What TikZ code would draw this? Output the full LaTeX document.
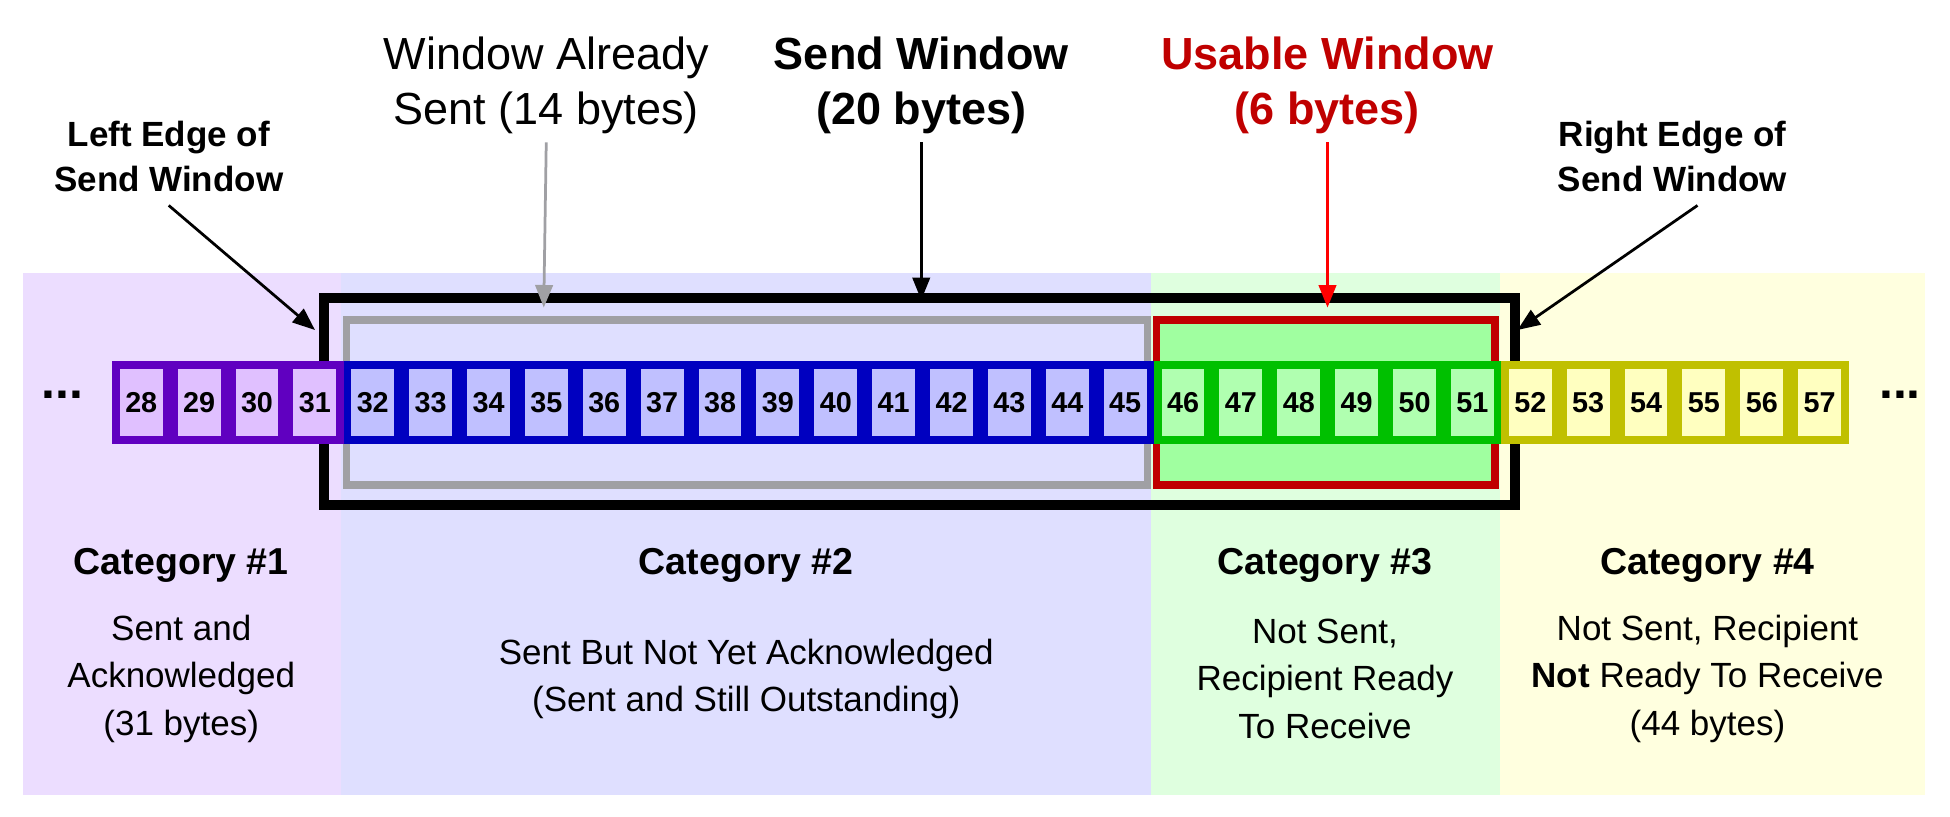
\documentclass[tikz,border=0pt]{standalone}
\usepackage{fontspec}
\setmainfont{Liberation Sans}
\usetikzlibrary{calc}
\usetikzlibrary{positioning}
\usetikzlibrary{arrows.meta}
\definecolor{bgA}{HTML}{ECDDFF}
\definecolor{bgB}{HTML}{DFDFFF}
\definecolor{bgC}{HTML}{DFFFDF}
\definecolor{bgD}{HTML}{FFFFDF}
\definecolor{cellA}{HTML}{E0C0FF}
\definecolor{lineA}{HTML}{6000C0}
\definecolor{cellB}{HTML}{C0C0FF}
\definecolor{lineB}{HTML}{0000C0}
\definecolor{cellC}{HTML}{B0FFB0}
\definecolor{lineC}{HTML}{00C000}
\definecolor{cellD}{HTML}{FFFFC0}
\definecolor{lineD}{HTML}{C0C000}
\definecolor{usable}{HTML}{A0FFA0}
\definecolor{winred}{HTML}{C00000}
\definecolor{wingray}{HTML}{A0A0A4}
\tikzstyle{cellnode} = [draw, rectangle, line width=3pt, minimum width=20.15pt, minimum height=30pt, inner sep=0pt, font=\bfseries\fontsize{11.5}{12}\selectfont]
\tikzstyle{catnode} = [font=\bfseries\fontsize{15}{16}\selectfont]
\tikzstyle{descnode} = [align=center, font=\fontsize{14}{19}\selectfont]
\tikzstyle{edgenode} = [align=center, font=\bfseries\fontsize{14}{18}\selectfont]
\tikzstyle{topnode} = [align=center, font=\fontsize{18}{22}\selectfont]
\tikzstyle{pointer} = [-{Triangle[length=9pt,width=7pt]}, line width=1.1pt]
\begin{document}
\begin{tikzpicture}[x=0.5pt, y=-0.5pt]
\useasboundingbox (0,0) rectangle (1560,653);
% category backgrounds
\fill[bgA] (18,218) rectangle (273,636);
\fill[bgB] (273,218) rectangle (921,636);
\fill[bgC] (921,218) rectangle (1200,636);
\fill[bgD] (1200,218) rectangle (1540,636);
% window frames
\draw[line width=4pt] (259,238) rectangle (1212,404);
\draw[wingray, line width=3pt] (277,256) rectangle (918,388);
\draw[winred, line width=3pt, fill=usable] (925,256) rectangle (1196,388);
% byte cells
\foreach \n in {28,...,57} {
  \ifnum\n<32 \def\cf{cellA}\def\cl{lineA}\else
  \ifnum\n<46 \def\cf{cellB}\def\cl{lineB}\else
  \ifnum\n<52 \def\cf{cellC}\def\cl{lineC}\else
  \def\cf{cellD}\def\cl{lineD}\fi\fi\fi
  \node[cellnode, draw=\cl, fill=\cf] (c\n) at ({113+(\n-28)*46.3},322) {\n};
}
\node[font=\bfseries\fontsize{20}{20}\selectfont] (dotsL) at (50,316) {...};
\node[font=\bfseries\fontsize{20}{20}\selectfont] (dotsR) at (1520,316) {...};
% labels above
\node[edgenode] (leftedge) at (135,125) {Left Edge of\\Send Window};
\node[edgenode] (rightedge) at (1338,125) {Right Edge of\\Send Window};
\node[topnode] (sent) at (437,68) {Window Already\\Sent (14 bytes)};
\node[topnode, font=\bfseries\fontsize{18}{22}\selectfont] (sendwin) at (737,68) {Send Window\\(20 bytes)};
\node[topnode, font=\bfseries\fontsize{18}{22}\selectfont, text=winred] (usablewin) at (1062,68) {Usable Window\\(6 bytes)};
\coordinate (leftend) at (252,264);
\coordinate (rightend) at (1214,264);
\coordinate (sentend) at (435,246);
\coordinate (sendend) at (737,240);
\coordinate (usableend) at (1062,246);
\draw[pointer] (leftedge.south) ++(0,4) -- (leftend);
\draw[pointer] (rightedge.south) ++(20,4) -- (rightend);
\draw[pointer, wingray] (sent.south) -- (sentend);
\draw[pointer] (sendwin.south) -- (sendend);
\draw[pointer, red] (usablewin.south) -- (usableend);
% categories
\node[catnode] (catA) at (145,452) {Category \#1};
\node[catnode] (catB) at (597,452) {Category \#2};
\node[catnode] (catC) at (1060,452) {Category \#3};
\node[catnode] (catD) at (1366,452) {Category \#4};
\node[descnode] (descA) at (145,543) {Sent and\\Acknowledged\\(31 bytes)};
\node[descnode] (descB) at (597,543) {Sent But Not Yet Acknowledged\\(Sent and Still Outstanding)};
\node[descnode] (descC) at (1060,543) {Not Sent,\\Recipient Ready\\To Receive};
\node[descnode] (descD) at (1366,543) {Not Sent, Recipient\\\textbf{Not} Ready To Receive\\(44 bytes)};
\end{tikzpicture}
\end{document}
